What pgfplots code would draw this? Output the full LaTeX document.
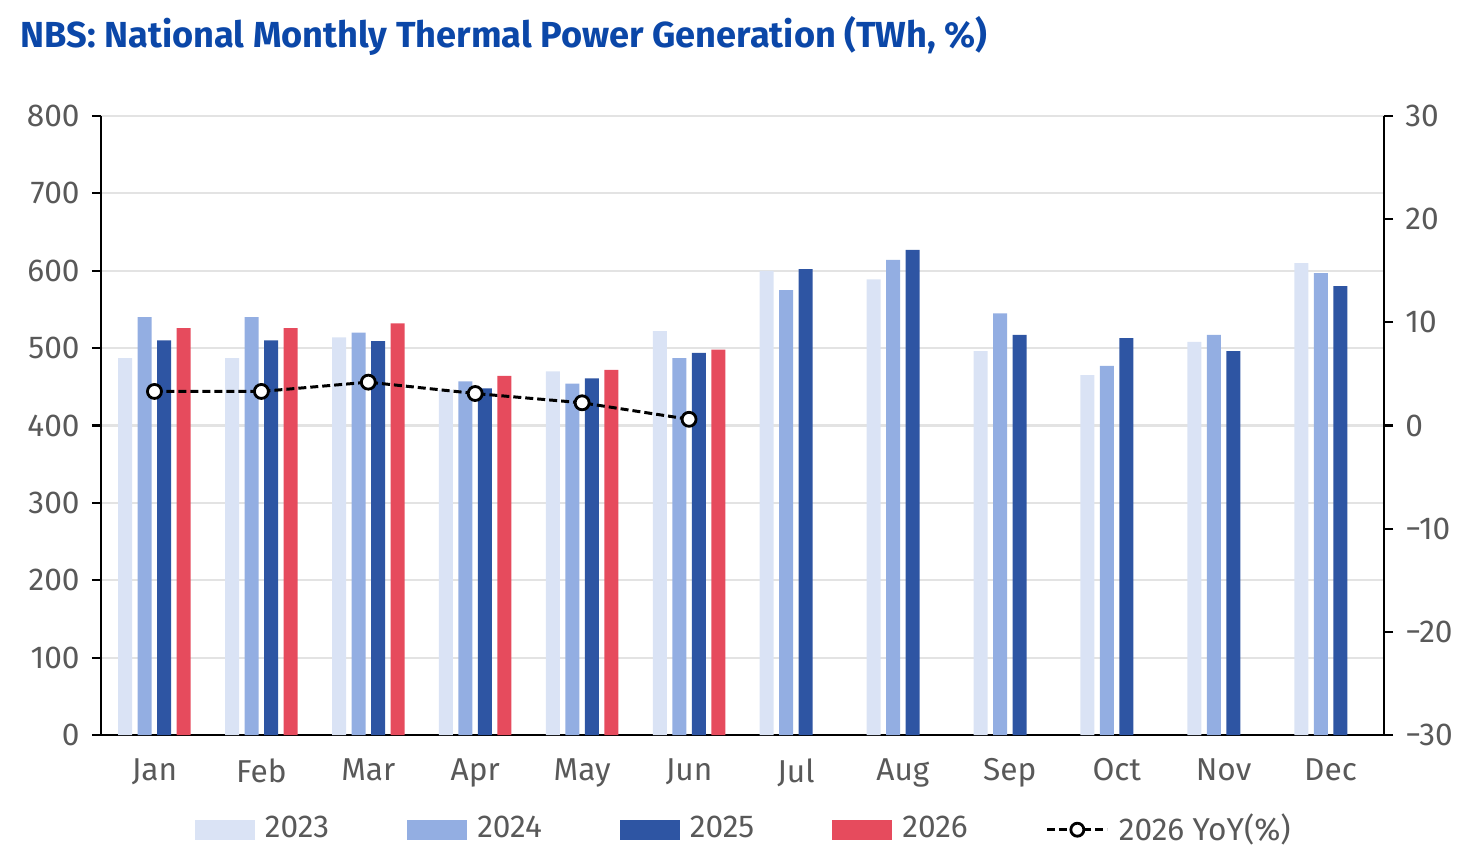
\documentclass[border=0pt]{standalone}
\usepackage{fontspec}
\setmainfont{Fira Sans}
\usepackage{pgfplots}
\usepackage{pgfplotstable}
\pgfplotsset{compat=1.18}
\definecolor{c23}{HTML}{DAE3F5}
\definecolor{c24}{HTML}{93AEE2}
\definecolor{c25}{HTML}{2E55A3}
\definecolor{c26}{HTML}{E64B5D}
\definecolor{titleblue}{HTML}{0B47A8}
\definecolor{tickgray}{HTML}{595959}
\definecolor{gridgray}{HTML}{E3E3E3}
\pgfplotstableread{
x v23 v24 v25 v26
0 487 540 510 526
1 487 540 510 526
2 514 520 509 532
3 446 457 448 464
4 470 454 461 472
5 522 487 494 498
6 600 575 602 nan
7 589 614 627 nan
8 496 545 517 nan
9 465 477 513 nan
10 508 517 496 nan
11 610 597 580 nan
}\bars
\pgfplotstableread{
x yoy
0 3.3
1 3.3
2 4.2
3 3.1
4 2.2
5 0.6
}\yoy
\begin{document}
\begin{tikzpicture}
\path[use as bounding box] (-1.01,-1.17) rectangle (13.61,7.35);
\node[anchor=base west, inner sep=0pt, font=\fontsize{10.3}{12}\selectfont\bfseries, text=titleblue] at (-0.81,6.87) {NBS: National Monthly Thermal Power Generation (TWh, \%)};
\begin{axis}[
  at={(0,0)}, anchor=south west,
  scale only axis, width=12.83cm, height=6.19cm,
  xmin=-0.5, xmax=11.5, ymin=0, ymax=800,
  ybar=0.055cm, bar width=0.14cm,
  xtick={0,...,11},
  xticklabels={Jan,Feb,Mar,Apr,May,Jun,Jul,Aug,Sep,Oct,Nov,Dec},
  ytick={0,100,...,800},
  axis x line*=bottom, axis y line*=left,
  ymajorgrids, grid style={gridgray, line width=0.6pt},
  x tick style={draw=none},
  y tick style={black, line width=0.6pt},
  tick align=outside, major tick length=0.09cm,
  axis line style={black, line width=0.6pt},
  ticklabel style={font=\fontsize{9}{10}\selectfont, text=tickgray},
  xticklabel style={yshift=-0.02cm},
  /pgf/number format/assume math mode=true,
  legend columns=5,
  legend style={draw=none, fill=none, at={(0.503,-0.153)}, anchor=center,
    font=\fontsize{9}{10}\selectfont, text=tickgray,
    /tikz/every odd column/.append style={column sep=0.03cm},
    /tikz/every even column/.append style={column sep=0.71cm}},
  legend image code/.code={\fill[#1] (0cm,-0.1cm) rectangle (0.6cm,0.1cm);},
]
\addplot[fill=c23, draw=none] table[x=x,y=v23]{\bars};
\addlegendentry{2023}
\addplot[fill=c24, draw=none] table[x=x,y=v24]{\bars};
\addlegendentry{2024}
\addplot[fill=c25, draw=none] table[x=x,y=v25]{\bars};
\addlegendentry{2025}
\addplot[fill=c26, draw=none] table[x=x,y=v26]{\bars};
\addlegendentry{2026}
\addlegendimage{legend image code/.code={
  \draw[black, line width=0.85pt, dash pattern=on 0.08cm off 0.04cm] (0cm,0cm) -- (0.6cm,0cm);
  \draw[black, fill=white, line width=0.8pt] (0.3cm,0cm) circle (0.065cm);}}
\addlegendentry{2026 YoY(\%)}
\end{axis}
\begin{axis}[
  at={(0,0)}, anchor=south west,
  scale only axis, width=12.83cm, height=6.19cm,
  xmin=-0.5, xmax=11.5, ymin=-30, ymax=30,
  axis y line*=right, axis x line=none,
  ytick={-30,-20,...,30},
  yticklabels={−30,−20,−10,0,10,20,30},
  y tick style={black, line width=0.6pt},
  tick align=outside, major tick length=0.09cm,
  axis line style={black, line width=0.6pt},
  ticklabel style={font=\fontsize{9}{10}\selectfont, text=tickgray},
]
\addplot[black, line width=0.85pt, dash pattern=on 0.08cm off 0.04cm, mark=*, mark options={solid, fill=white, draw=black, line width=0.8pt}, mark size=0.07cm] table[x=x,y=yoy]{\yoy};
\end{axis}
\end{tikzpicture}
\end{document}
